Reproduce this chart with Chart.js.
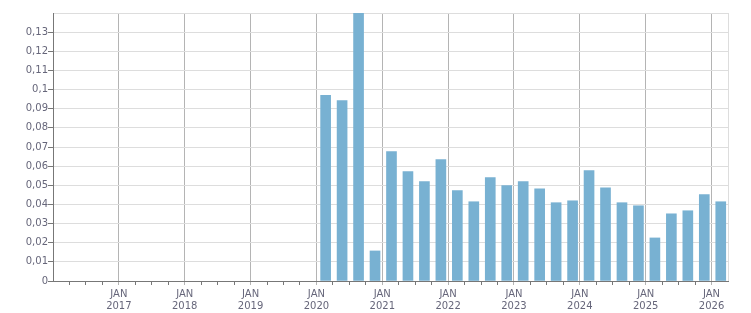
<!DOCTYPE html>
<html>
<head>
<meta charset="utf-8">
<script src="https://cdn.jsdelivr.net/npm/chart.js@4/dist/chart.umd.min.js"></script>
<style>
  html, body { margin: 0; padding: 0; background: #fff; }
  #wrap { width: 751px; height: 313px; position: relative; }
</style>
</head>
<body>
<div id="wrap"><canvas id="barChart"></canvas></div>
<script>
// quarterly periods and values
const quarters = [
    "2020-Q1", "2020-Q2", "2020-Q3", "2020-Q4",
    "2021-Q1", "2021-Q2", "2021-Q3", "2021-Q4",
    "2022-Q1", "2022-Q2", "2022-Q3", "2022-Q4",
    "2023-Q1", "2023-Q2", "2023-Q3", "2023-Q4",
    "2024-Q1", "2024-Q2", "2024-Q3", "2024-Q4",
    "2025-Q1", "2025-Q2", "2025-Q3", "2025-Q4",
    "2026-Q1"
];
const values = [
    0.097, 0.0943, 0.14, 0.0157,
    0.0676, 0.0571, 0.0519, 0.0634,
    0.0472, 0.0414, 0.054, 0.0498,
    0.0519, 0.0482, 0.0409, 0.0419,
    0.0577, 0.0487, 0.0409, 0.0393,
    0.0225, 0.0351, 0.0367, 0.0451,
    0.0414
];
const yearTicks = [2016, 2017, 2018, 2019, 2020, 2021, 2022, 2023, 2024, 2025, 2026];
const monthLabel = "JAN";

document.addEventListener("DOMContentLoaded", function () {
    const ctx = document.getElementById("barChart").getContext("2d");

    // quarter string -> decimal year at mid-quarter
    const points = quarters.map(function (q, i) {
        const parts = q.split("-Q");
        return { x: Number(parts[0]) + (Number(parts[1]) - 1) / 4 + 0.14, y: values[i] };
    });

    const xMin = yearTicks[0];
    const xMax = yearTicks[yearTicks.length - 1] + 0.25;
    const textColor = "#66667a";
    const font = { family: "'DejaVu Sans', Verdana, sans-serif", size: 10 };

    const isYear = function (v) { return Math.abs(v - Math.round(v)) < 1e-6; };

    new Chart(ctx, {
        type: "bar",
        data: {
            datasets: [{
                data: points,
                backgroundColor: "#78b1d2",
                borderWidth: 0,
                barThickness: 10
            }]
        },
        options: {
            responsive: true,
            maintainAspectRatio: false,
            animation: false,
            layout: { padding: { top: 13, right: 23, left: 0, bottom: 0 } },
            plugins: {
                legend: { display: false },
                tooltip: { enabled: false }
            },
            scales: {
                x: {
                    type: "linear",
                    min: xMin,
                    max: xMax,
                    offset: false,
                    afterBuildTicks: function (scale) {
                        const t = [];
                        for (let v = xMin; v <= xMax + 1e-6; v += 0.25) {
                            t.push({ value: Math.round(v * 100) / 100 });
                        }
                        scale.ticks = t;
                    },
                    afterFit: function (scale) { scale.height = 32; },
                    border: { color: "#777", width: 1 },
                    grid: {
                        offset: false,
                        color: function (c) {
                            if (!c.tick) return "rgba(0,0,0,0)";
                            if (c.tick.value >= xMax - 1e-6) return "#dddddd";
                            return isYear(c.tick.value) && c.tick.value > xMin ? "#b4b4b4" : "rgba(0,0,0,0)";
                        },
                        tickColor: function (c) {
                            if (!c.tick) return "#777";
                            if (c.tick.value <= xMin + 1e-6 || c.tick.value >= xMax - 1e-6) return "rgba(0,0,0,0)";
                            return isYear(c.tick.value) ? "#b4b4b4" : "#777";
                        },
                        tickLength: 4,
                        lineWidth: 1
                    },
                    ticks: {
                        autoSkip: false,
                        maxRotation: 0,
                        padding: 3,
                        color: textColor,
                        font: font,
                        callback: function (v) {
                            if (isYear(v) && v > xMin && yearTicks.indexOf(Math.round(v)) >= 0) {
                                return [monthLabel, String(Math.round(v))];
                            }
                            return "";
                        }
                    }
                },
                y: {
                    min: 0,
                    max: 0.14,
                    afterFit: function (scale) { scale.width = 53; },
                    border: { color: "#777", width: 1 },
                    grid: {
                        color: "#dddddd",
                        tickColor: function (c) {
                            return c.tick && c.tick.value >= 0.14 - 1e-6 ? "rgba(0,0,0,0)" : "#777";
                        },
                        tickLength: 5
                    },
                    ticks: {
                        stepSize: 0.01,
                        padding: 0,
                        color: textColor,
                        font: font,
                        callback: function (v) {
                            if (v >= 0.14 - 1e-6) return "";
                            return String(parseFloat(v.toFixed(2))).replace(".", ",");
                        }
                    }
                }
            }
        }
    });
});
</script>
</body>
</html>
